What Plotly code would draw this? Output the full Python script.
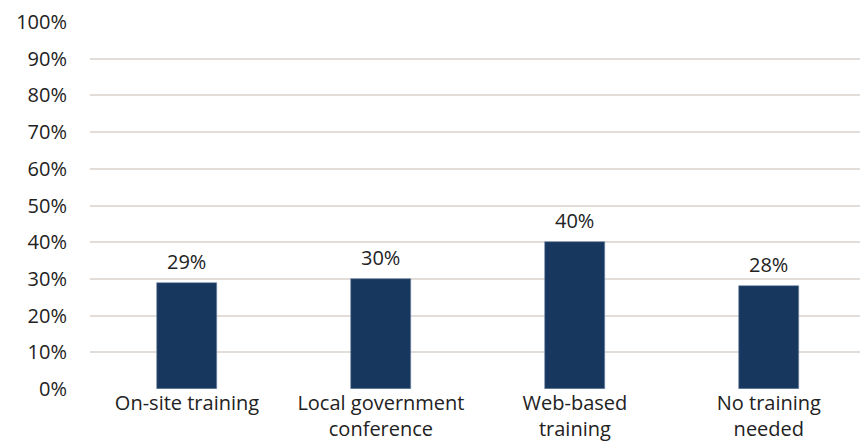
import plotly.graph_objects as go

categories = ["On-site training", "Local government<br>conference", "Web-based<br>training", "No training<br>needed"]
values = [29, 30, 40, 28]
labels = ["29%", "30%", "40%", "28%"]
tick_vals = list(range(0, 101, 10))
tick_text = [f"{v}%" for v in tick_vals]

font_family = "'Open Sans', sans-serif"
text_color = "#222222"
font_size = 20

xpos = list(range(len(categories)))

fig = go.Figure(
    go.Bar(
        x=xpos,
        y=values,
        marker=dict(color="#17375e", line=dict(color="#6f84a6", width=0.6)),
        width=0.31,
        hoverinfo="skip",
    )
)

# value labels above each bar
for x, v, t in zip(xpos, values, labels):
    fig.add_annotation(
        x=x, y=v, text=t, showarrow=False,
        yanchor="bottom", yshift=6,
        font=dict(size=font_size, color=text_color, family=font_family),
    )

fig.update_layout(
    width=860,
    height=445,
    margin=dict(l=90, r=0, t=22, b=56),
    paper_bgcolor="white",
    plot_bgcolor="white",
    showlegend=False,
    bargap=0,
    font=dict(family=font_family, size=font_size, color=text_color),
    xaxis=dict(
        range=[-0.5, 3.47],
        tickmode="array",
        tickvals=xpos,
        ticktext=categories,
        showgrid=False,
        zeroline=False,
        showline=False,
        ticks="",
        automargin=False,
        tickfont=dict(size=font_size, color=text_color),
    ),
    yaxis=dict(
        range=[0, 100],
        tickmode="array",
        tickvals=tick_vals,
        ticktext=tick_text,
        showgrid=True,
        gridcolor="#e2ddd9",
        gridwidth=1.5,
        zeroline=False,
        showline=False,
        ticks="outside",
        ticklen=18,
        tickcolor="white",
        automargin=False,
        tickfont=dict(size=font_size, color=text_color),
    ),
)

fig.write_html("out.html")
